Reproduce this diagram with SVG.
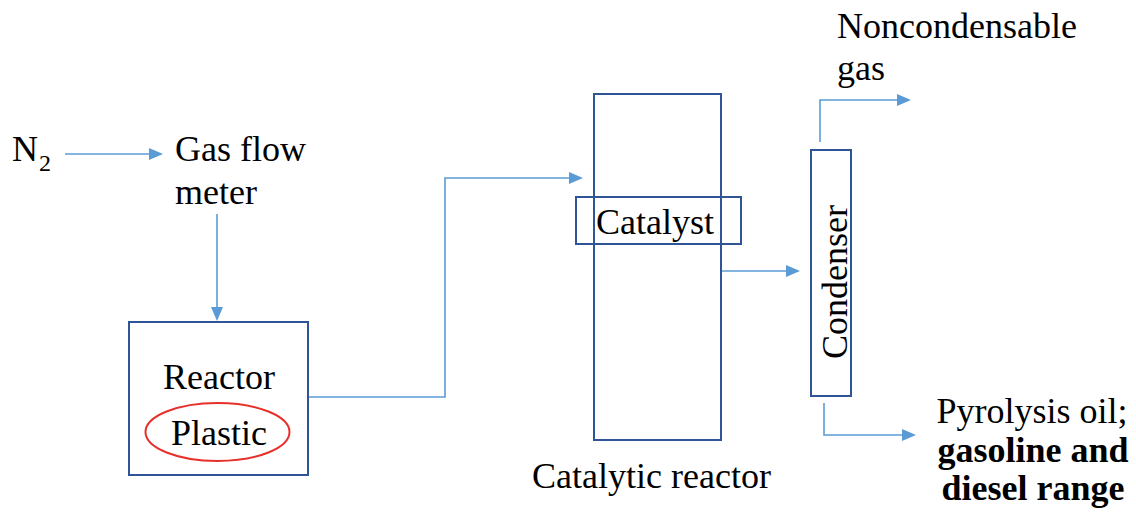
<svg xmlns="http://www.w3.org/2000/svg" width="1136" height="519" viewBox="0 0 1136 519">
<style>
.box{fill:none;stroke:#2F5597;stroke-width:2}
.c{fill:none;stroke:#5B9BD5;stroke-width:1.6}
.h{fill:#5B9BD5}
text{font-family:'Liberation Serif',serif;font-size:36px}
</style>
<rect width="1136" height="519" fill="#fff"/>
<g id="connectors">
<path class="c" d="M65,154 H150"/>
<polygon class="h" points="163,154 149,148 149,160"/>
<path class="c" d="M217,214 V308"/>
<polygon class="h" points="217,321 211,307 223,307"/>
<path class="c" d="M308,397 H445 V178 H570"/>
<polygon class="h" points="583,178 569,172 569,184"/>
<path class="c" d="M721,271 H787"/>
<polygon class="h" points="800,271 786,265 786,277"/>
<path class="c" d="M820,142 V100 H898"/>
<polygon class="h" points="911,100 897,94 897,106"/>
<path class="c" d="M824,403 V435 H903"/>
<polygon class="h" points="916,435 902,429 902,441"/>
</g>
<g id="n2">
<text x="12" y="161">N</text>
<text x="39" y="171" style="font-size:24px">2</text>
</g>
<g id="gasflowmeter">
<text x="175" y="161">Gas flow</text>
<text x="175" y="204">meter</text>
</g>
<g id="reactor">
<rect class="box" x="129" y="322" width="179" height="153"/>
<text x="219" y="389" text-anchor="middle">Reactor</text>
<ellipse cx="217.5" cy="432" rx="72" ry="29" fill="none" stroke="#E8302B" stroke-width="2"/>
<text x="219" y="445" text-anchor="middle">Plastic</text>
</g>
<g id="catalyticreactor">
<rect class="box" x="594" y="94" width="127" height="346"/>
<rect class="box" x="576" y="197" width="165" height="47"/>
<text x="596" y="234">Catalyst</text>
<text x="532" y="488">Catalytic reactor</text>
</g>
<g id="condenser">
<rect class="box" x="811" y="150" width="40" height="246"/>
<text transform="translate(847,282) rotate(-90)" text-anchor="middle">Condenser</text>
</g>
<g id="noncondensable">
<text x="837" y="38">Noncondensable</text>
<text x="837" y="80">gas</text>
</g>
<g id="pyrolysisoil">
<text x="1032" y="423" text-anchor="middle">Pyrolysis oil;</text>
<text x="1033" y="462" text-anchor="middle" font-weight="bold">gasoline and</text>
<text x="1033" y="500" text-anchor="middle" font-weight="bold">diesel range</text>
</g>
</svg>
